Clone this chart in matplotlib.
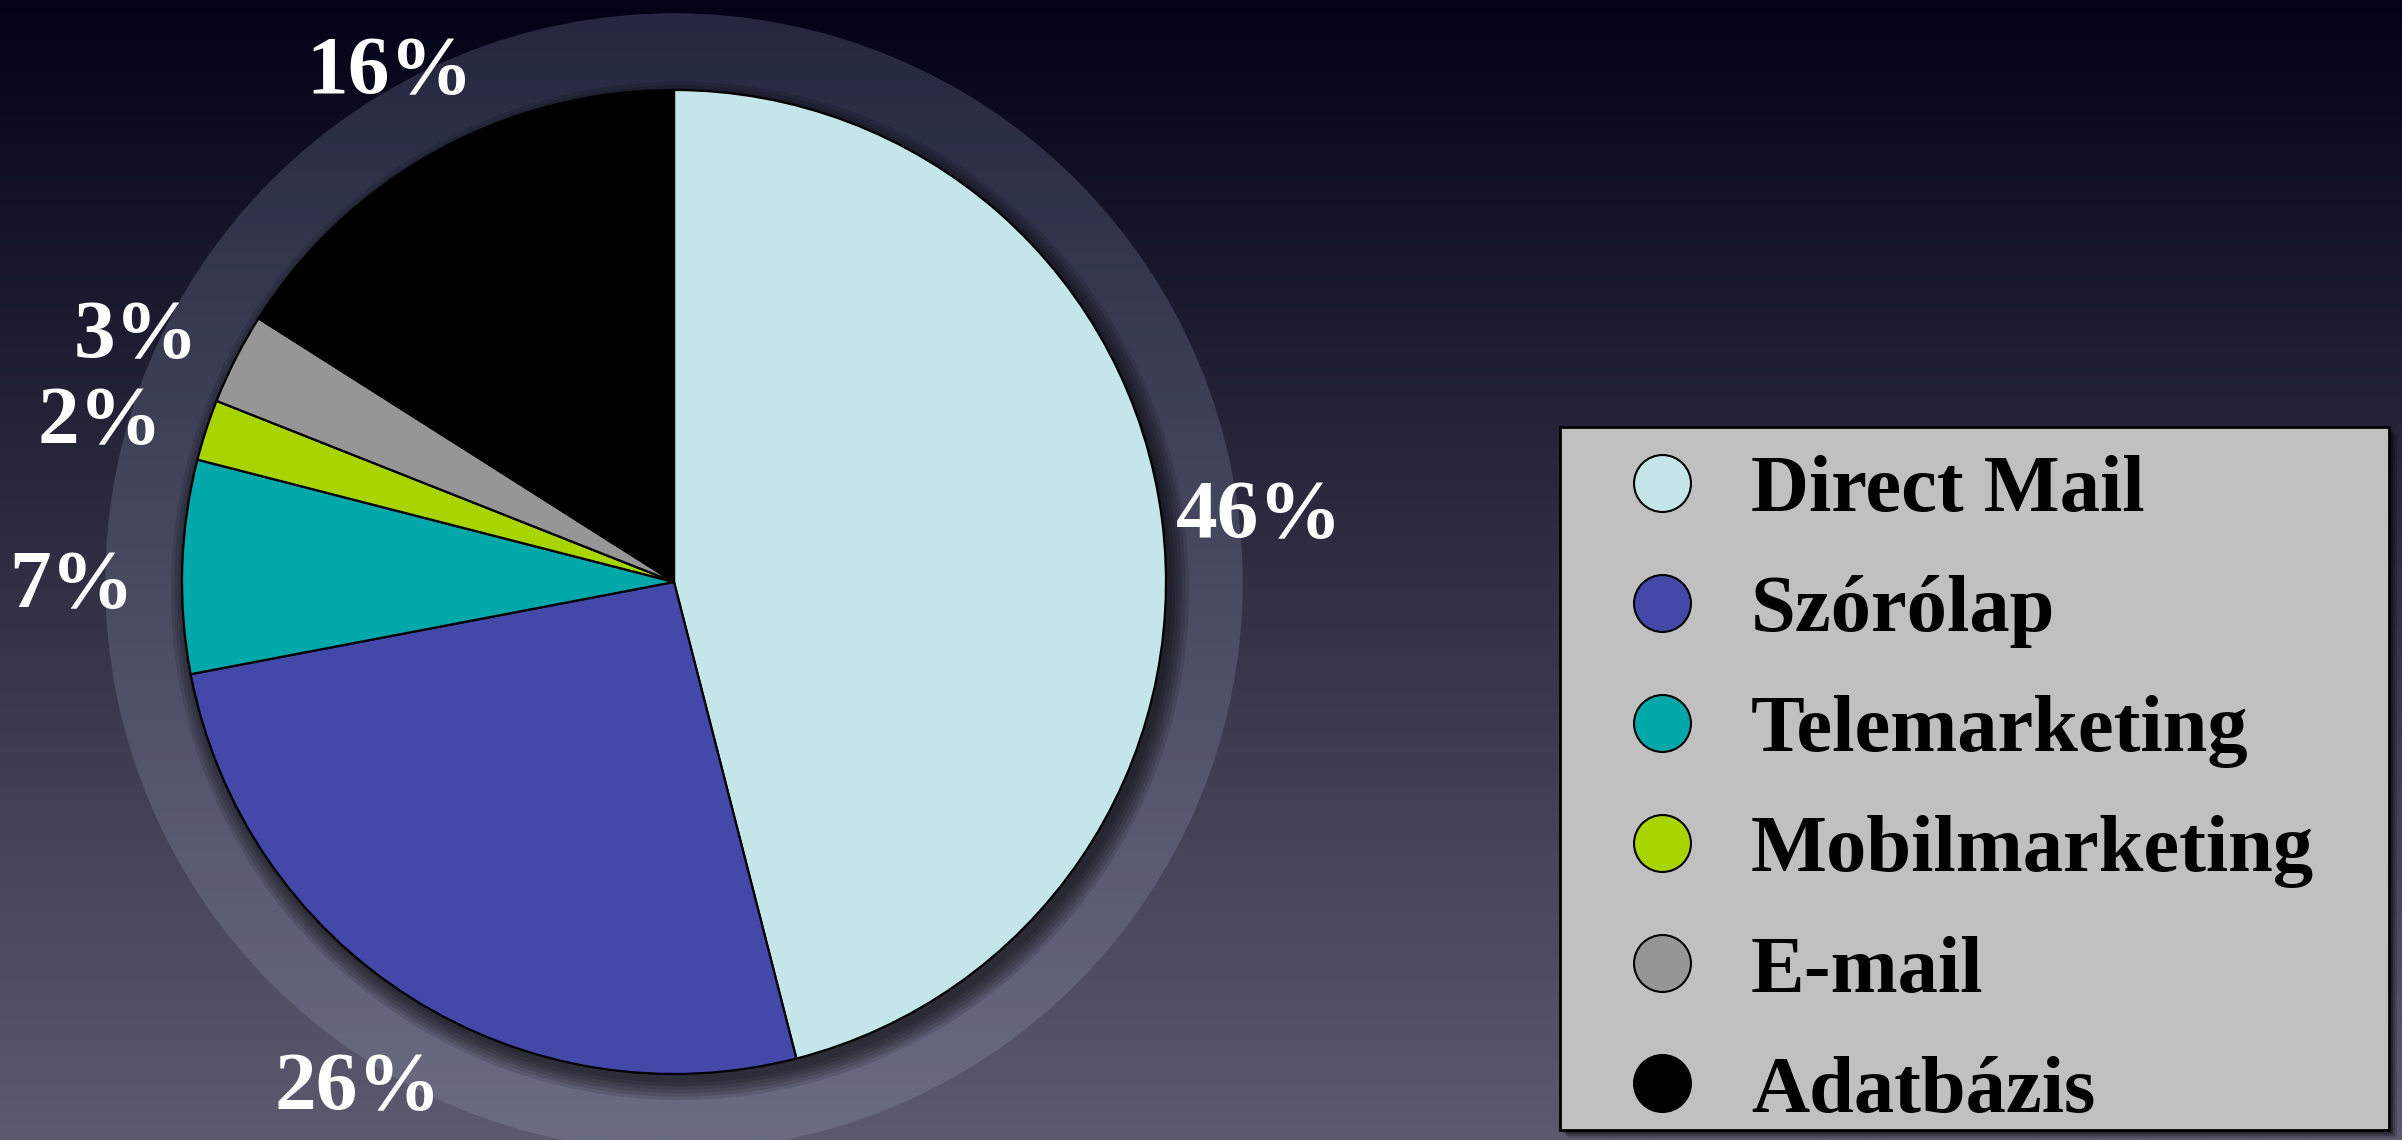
import numpy as np
import matplotlib
matplotlib.use("Agg")
import matplotlib.pyplot as plt
from matplotlib.patches import Circle, Rectangle
from matplotlib.lines import Line2D

categories = ["Direct Mail", "Szórólap", "Telemarketing", "Mobilmarketing", "E-mail", "Adatbázis"]
values = [46, 26, 7, 2, 3, 16]
colors = ["#c4e6e8", "#4448a8", "#00a8aa", "#a8d400", "#969696", "#000000"]

W, H, DPI = 2402, 1140, 100
fig = plt.figure(figsize=(W / DPI, H / DPI), dpi=DPI)

# background gradient
bg = fig.add_axes([0, 0, 1, 1])
top = np.array([3, 3, 24]) / 255
bot = np.array([92, 90, 110]) / 255
t = np.linspace(0, 1, 400)[:, None]
grad = top[None, :] * (1 - t) + bot[None, :] * t
bg.imshow(grad[:, None, :], aspect="auto", extent=[0, 1, 0, 1])
bg.set_xlim(0, 1)
bg.set_ylim(0, 1)
bg.set_axis_off()

# legend frame (drawn in figure fraction on background axes)
x0, y0, x1, y1 = 1560, 427, 2389, 1130
fx, fy, fw, fh = x0 / W, 1 - y1 / H, (x1 - x0) / W, (y1 - y0) / H
for k, a in enumerate([0.15, 0.2, 0.3]):
    off = 8 - 2 * k
    bg.add_patch(Rectangle((fx + off / W, fy - off / H), fw, fh, facecolor="black", alpha=a,
                           edgecolor="none", transform=bg.transAxes, zorder=3))
bg.add_patch(Rectangle((fx, fy), fw, fh, facecolor="#c0c0c0", edgecolor="black",
                       linewidth=2, transform=bg.transAxes, zorder=4))

# pie axes: center (674, 582) px, radius 492 px
R = 492
cx, cy = 674, 582
half = 1.3 * R
ax = fig.add_axes([(cx - half) / W, (H - cy - half) / H, 2 * half / W, 2 * half / H])
ax.set_zorder(2)

# translucent ring
ax.add_patch(Circle((0, 0), 1.156, facecolor="#a8b8d8", alpha=0.2, edgecolor="none", zorder=0))
# drop shadow
for r in np.linspace(1.0, 1.035, 6):
    ax.add_patch(Circle((0.012, -0.018), r, facecolor="black", alpha=0.12, edgecolor="none", zorder=0.5))

wedges, texts, autotexts = ax.pie(
    values, colors=colors, startangle=90, counterclock=False,
    autopct="%d%%", pctdistance=1.2,
    wedgeprops=dict(edgecolor="black", linewidth=1.6),
    textprops=dict(color="white", fontsize=60, fontweight="bold", family="Liberation Serif"),
)
for v, at in zip(values, autotexts):
    at.set_va("center_baseline")
    if v < 10:  # small slices: labels sit a little further down-left
        px, py = at.get_position()
        at.set_position((px - 0.025, py - 0.03))
ax.set_xlim(-1.3, 1.3)
ax.set_ylim(-1.3, 1.3)
ax.set_axis_off()

# legend entries
handles = [Line2D([0], [0], marker="o", linestyle="none", markersize=41,
                  markerfacecolor=c, markeredgecolor="black", markeredgewidth=1.5)
           for c in colors]
leg = fig.legend(handles, categories, loc="upper left", mode="expand",
                 bbox_to_anchor=(x0 / W, 1 - (y0 + 14) / H, (x1 - x0) / W, 0.0), borderaxespad=0,
                 prop=dict(family="Liberation Serif", weight="bold", size=58),
                 frameon=False, borderpad=0.17, labelspacing=0.58,
                 handlelength=2.2, handletextpad=0.0)
leg.set_zorder(5)
for txt in leg.get_texts():
    txt.set_color("black")

fig.savefig("out.png", dpi=DPI)
